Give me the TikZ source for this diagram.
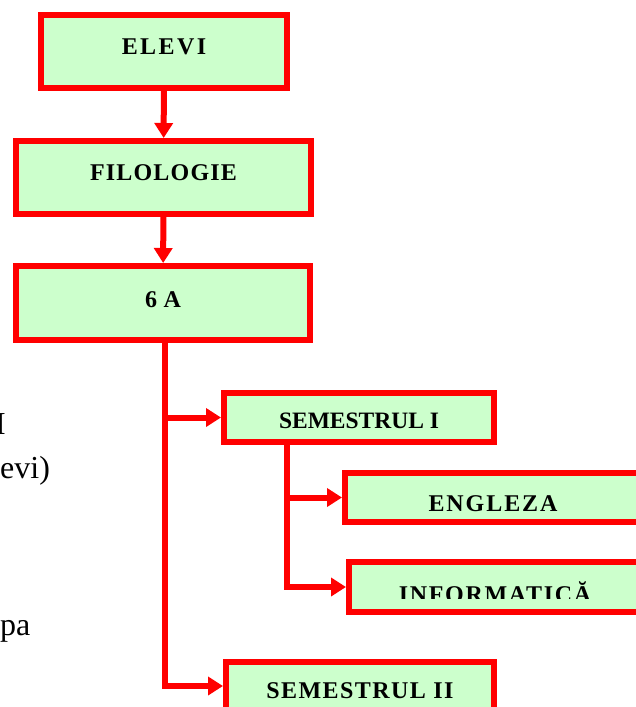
\documentclass[tikz,border=0pt]{standalone}
\usepackage{fontspec}
\setmainfont{Liberation Serif}
\usetikzlibrary{arrows.meta}
\definecolor{verde}{HTML}{CCFFCC}
\definecolor{rosu}{HTML}{FF0000}
\newcommand\litere[2]{\fontsize{#1pt}{#1pt}\selectfont\addfontfeature{LetterSpace=#2}}
\begin{document}
\begin{tikzpicture}[x=1pt,y=-1pt,>={Triangle[length=15pt,width=18pt]},
  cutie/.style={draw=rosu,fill=verde,line width=6pt,inner sep=0pt,font=\bfseries},
  sageata/.style={draw=rosu,line width=6pt,->},
  fundal/.style={inner sep=0pt,font=\fontsize{32pt}{36pt}\selectfont}]
   \useasboundingbox (0,0) rectangle (636,707);
   \clip (0,0) rectangle (636,707);

   % textul din spate
   \node[fundal,anchor=base east] (t1) at (6,434) {I};
   \node[fundal,anchor=base west] (t2) at (0,478) {evi)};
   \node[fundal,anchor=base west] (t3) at (0,635) {pa};

   % cutii
   \node[cutie,minimum width=246pt,minimum height=73pt,text height=17pt,text depth=12pt]
     (elevi) at (164,51.5) {\litere{24}{10}ELEVI};
   \node[cutie,minimum width=295pt,minimum height=73pt,text height=17pt,text depth=12pt]
     (filo) at (163.5,177.5) {\litere{24}{5}FILOLOGIE};
   \node[cutie,minimum width=294pt,minimum height=74pt,text height=17pt,text depth=8.4pt]
     (sase) at (163,303) {\litere{24}{2}6 A};
   \node[cutie,minimum width=270pt,minimum height=49pt,text height=26pt,text depth=3.4pt]
     (sem1) at (359,417.5) {\litere{23.5}{0}SEMESTRUL I};
   \node[cutie,minimum width=296pt,minimum height=49pt,text height=30pt,text depth=3pt]
     (engl) at (493,497.5) {\litere{24}{8}ENGLEZA};
   \node[cutie,minimum width=292pt,minimum height=50pt,text height=32pt,text depth=2pt]
     (info) at (495,587) {\litere{24}{7}INFORMATICĂ};
   \fill[verde] ([xshift=6pt,yshift=6pt]info.south west) rectangle ([xshift=-6pt,yshift=16pt]info.south east);
   \node[cutie,minimum width=268pt,minimum height=49pt,text height=27pt,text depth=3pt]
     (sem2) at (360,686) {\litere{24}{6}SEMESTRUL II};

   % sageti
   \draw[sageata] (elevi) -- (filo);
   \draw[sageata] (filo) -- (sase);
   \coordinate (s6) at ([xshift=2pt]sase.south);
   \draw[sageata] (s6) |- (sem1);
   \draw[sageata] (s6) |- (sem2);
   \coordinate (s1) at ([xshift=-72pt]sem1.south);
   \draw[sageata] (s1) |- (engl);
   \draw[sageata] (s1) |- (info);

\end{tikzpicture}
\end{document}
